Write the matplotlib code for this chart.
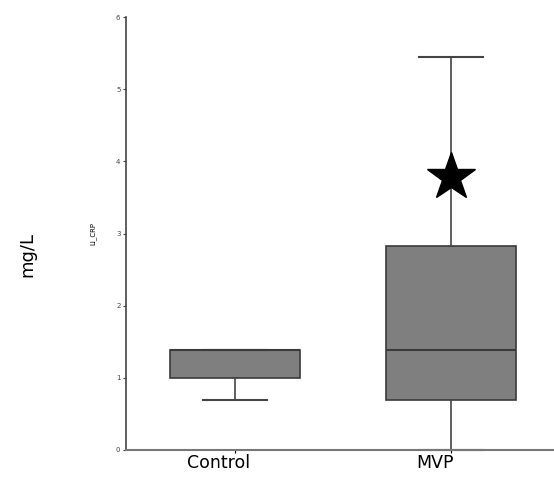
import matplotlib.pyplot as plt
import matplotlib.transforms as mtransforms

groups = ["Control", "MVP"]
whislo = [0.69, 0.0]
q1 = [1.0, 0.69]
med = [1.38, 1.38]
q3 = [1.39, 2.83]
whishi = [1.39, 5.45]
star_y = 3.78

stats = []
for i, g in enumerate(groups):
    stats.append({"label": g, "whislo": whislo[i], "q1": q1[i], "med": med[i],
                  "q3": q3[i], "whishi": whishi[i], "fliers": []})

fig = plt.figure(figsize=(5.54, 4.8), dpi=100)
ax = fig.add_axes([0.2274, 0.0625, 0.7726, 0.902])

line_c = "#444444"
bp = ax.bxp(stats, positions=[1, 2], widths=0.6, patch_artist=True, showfliers=False,
            boxprops=dict(facecolor="#7f7f7f", edgecolor="#3a3a3a", linewidth=1.2),
            medianprops=dict(color="#3a3a3a", linewidth=1.5),
            whiskerprops=dict(color=line_c, linewidth=1.2),
            capprops=dict(color=line_c, linewidth=1.5),
            capwidths=0.3)
for c in bp["caps"]:
    c.set_clip_on(False)

ax.plot(2, star_y, marker="*", markersize=36, color="black", linestyle="none")

ax.set_xlim(0.495, 2.477)
ax.set_ylim(0, 6)
ax.set_yticks(range(7))
ax.tick_params(axis="y", labelsize=5, length=2, width=0.8, colors=line_c, pad=2)
ax.tick_params(axis="x", labelsize=12.5, length=2, width=0.8, pad=1)
ax.set_xticklabels(groups)
shift = mtransforms.ScaledTranslation(-16 / 100, 0, fig.dpi_scale_trans)
for lbl in ax.get_xticklabels():
    lbl.set_transform(lbl.get_transform() + shift)
for sp in ["top", "right"]:
    ax.spines[sp].set_visible(False)
ax.spines["left"].set_color(line_c)
ax.spines["bottom"].set_color("#777777")
ax.spines["left"].set_linewidth(1.2)
ax.spines["bottom"].set_linewidth(1.5)

ax.set_ylabel("LI_CRP", fontsize=5, labelpad=14)
fig.text(0.05, 0.47, "mg/L", rotation=90, fontsize=13, ha="center", va="center")

fig.savefig("out.png", dpi=100)
